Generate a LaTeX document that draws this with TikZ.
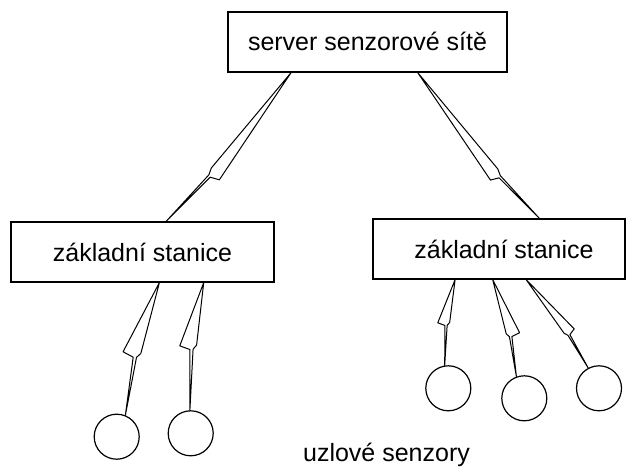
\documentclass[tikz,border=0pt]{standalone}
\usepackage{fontspec}
\setmainfont{Liberation Sans}
\usetikzlibrary{calc}
\tikzset{
  box/.style={draw, line width=1.2pt, rectangle, inner sep=0pt, minimum height=60pt,
              text height=18pt, text depth=0pt, font=\fontsize{25}{30}\selectfont},
  sensor/.style={draw, line width=1.2pt, circle, inner sep=0pt, minimum size=45pt},
  lbl/.style={inner sep=0pt, font=\fontsize{25}{30}\selectfont},
  zapline/.style={draw, line width=1pt, line join=round}
}
% lightning connector: #1 start, #2 end, #3 jog position, #4 width, #5 side angle
\newcommand\zapconn[5]{%
  \draw[zapline] (#1)
    -- ($(#1)!#3!(#2)!#4!#5:(#2)$)
    -- ($(#1)!{#3+0.02}!(#2)!{0.38*#4}!#5:(#2)$)
    -- (#2)
    -- ($(#1)!{#3+0.015}!(#2)!{0.2*#4}!#5:(#2)$)
    -- ($(#1)!{#3-0.02}!(#2)!{0.02*#4}!#5:(#2)$)
    -- cycle;}
\begin{document}
\begin{tikzpicture}[x=1pt,y=-1pt]
\useasboundingbox (0,0) rectangle (626,468);
% boxes
\node[box, minimum width=279pt] (srv) at (367.5,42) {server senzorové sítě};
\node[box, minimum width=263pt] (stL) at (142.5,252) {základní stanice};
\node[box, minimum width=252pt] (stR) at (499,249) {\hspace*{10pt}základní stanice};
% sensors
\node[sensor] (c1) at (116.7,436.7) {};
\node[sensor] (c2) at (190.7,433.3) {};
\node[sensor] (c3) at (448.3,388.3) {};
\node[sensor] (c4) at (524.3,398.3) {};
\node[sensor] (c5) at (599,388.3) {};
\node[lbl, anchor=base] (lab) at (386.5,461.7) {uzlové senzory};
% connector end points on the boxes
\coordinate (sL) at ([xshift=63.7pt]srv.south west);
\coordinate (sR) at ([xshift=190.3pt]srv.south west);
\coordinate (lT) at ([xshift=155.7pt]stL.north west);
\coordinate (rT) at ([xshift=167pt]stR.north west);
\coordinate (lB1) at ([xshift=149pt]stL.south west);
\coordinate (lB2) at ([xshift=193.3pt]stL.south west);
\coordinate (rB1) at ([xshift=82.7pt]stR.south west);
\coordinate (rB2) at ([xshift=120.3pt]stR.south west);
\coordinate (rB3) at ([xshift=153.7pt]stR.south west);
% lightning connectors
\zapconn{sL}{lT}{0.66}{14pt}{90}
\zapconn{sR}{rT}{0.68}{13pt}{-90}
\zapconn{lB1}{c1.68}{0.555}{18pt}{-90}
\zapconn{lB2}{c2.92}{0.51}{17pt}{-90}
\zapconn{rB1}{c3.99}{0.52}{12pt}{-90}
\zapconn{rB2}{c4.110}{0.58}{13.5pt}{90}
\zapconn{rB3}{c5.118}{0.63}{11pt}{90}
\end{tikzpicture}
\end{document}
